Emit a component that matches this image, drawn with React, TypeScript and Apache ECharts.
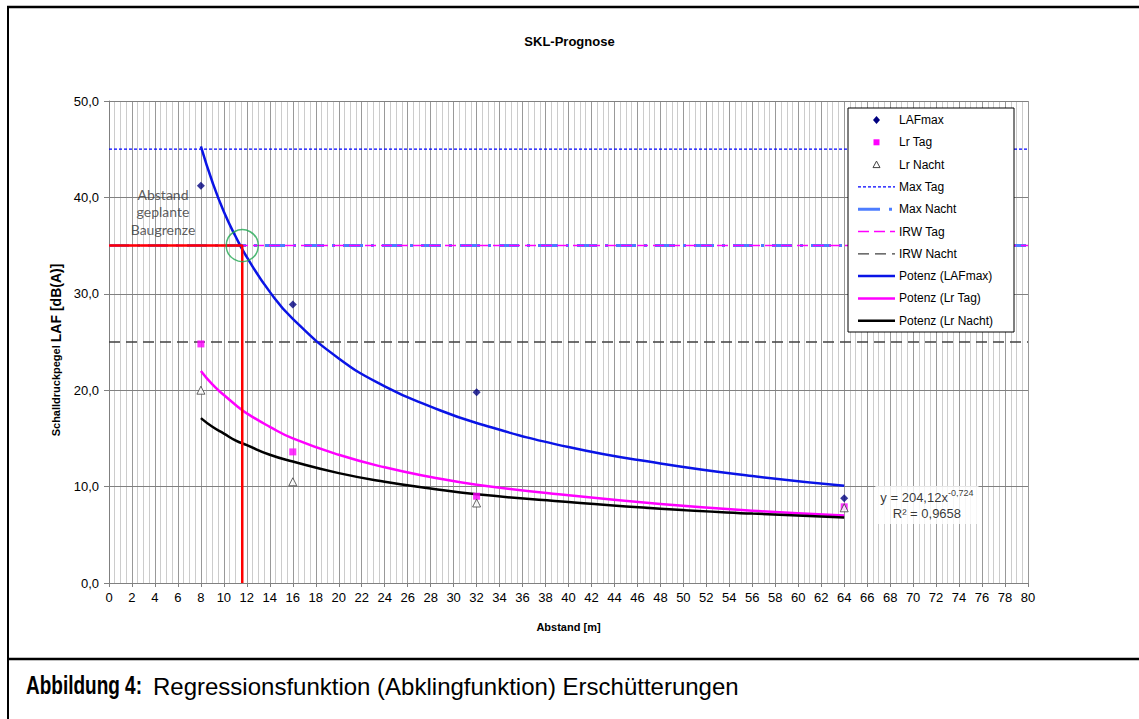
import React, { useEffect, useRef } from "react";
import * as echarts from "echarts";

// measured points
const distances = [8, 16, 32, 64];
const lafMax = [41.2, 28.9, 19.8, 8.8];
const lrTag = [24.8, 13.6, 9.0, 7.9];
const lrNacht = [20.0, 10.5, 8.3, 7.8];

// regression curves
const fitX = [8, 9, 10, 11, 12, 14, 16, 20, 24, 28, 32, 40, 48, 56, 64];
const fitLafMax = [45.3, 41.6, 38.5, 36.0, 33.8, 30.2, 27.4, 23.3, 20.4, 18.3, 16.6, 14.1, 12.4, 11.1, 10.1];
const fitLrTag = [22.0, 20.6, 19.5, 18.5, 17.6, 16.2, 15.0, 13.3, 12.0, 11.0, 10.2, 9.1, 8.2, 7.5, 7.0];
const fitLrNacht = [17.1, 16.2, 15.5, 14.8, 14.3, 13.3, 12.6, 11.4, 10.5, 9.8, 9.2, 8.4, 7.7, 7.2, 6.8];

// limit lines
const limitX = [0, 80];
const maxTag = 45;
const maxNacht = 35;
const irwTag = 35;
const irwNacht = 25;

// Baugrenze marker
const baugrenzeX = 11.6;
const baugrenzeY = 35;
const annotationPos = [4.7, 38.5];
const equationPos = [71.2, 8.1];

const legendNames = [
  "LAFmax",
  "Lr Tag",
  "Lr Nacht",
  "Max Tag",
  "Max Nacht",
  "IRW Tag",
  "IRW Nacht",
  "Potenz (LAFmax)",
  "Potenz (Lr Tag)",
  "Potenz (Lr Nacht)",
];

const FONT = "'Liberation Sans', Arial, sans-serif";

const C_LAF = "#000080";
const C_TAG = "#ff00ff";
const C_NACHT = "#404040";
const C_MAXTAG = "#0000ff";
const C_MAXNACHT = "#4d7dff";
const C_FIT_LAF = "#0a14e6";

const DASH_MAXTAG = [3, 2];
const DASH_MAXNACHT = [20, 8, 3, 8];
const DASH_IRWTAG = [11, 5];
const DASH_IRWNACHT = [11, 6];

const pairs = (xs: number[], ys: number[]) => xs.map((x, i) => [x, ys[i]]);
const hLine = (y: number) => limitX.map((x) => [x, y]);

function legendGraphic() {
  const left = 858;
  const iconW = 37;
  const top = 120;
  const step = 22.3;
  const cx = left + iconW / 2;
  const Z = 30;
  const els: any[] = [
    {
      type: "rect",
      z: Z,
      shape: { x: 848, y: 108, width: 166, height: 224 },
      style: { fill: "#fff", stroke: "#000", lineWidth: 1 },
    },
  ];
  const lineStyles: Record<string, any> = {
    "Max Tag": { stroke: C_MAXTAG, lineWidth: 1.3, lineDash: DASH_MAXTAG },
    "Max Nacht": { stroke: C_MAXNACHT, lineWidth: 3, lineDash: [22, 9, 3, 9] },
    "IRW Tag": { stroke: C_TAG, lineWidth: 1.5, lineDash: DASH_IRWTAG },
    "IRW Nacht": { stroke: C_NACHT, lineWidth: 1.3, lineDash: DASH_IRWNACHT },
    "Potenz (LAFmax)": { stroke: C_FIT_LAF, lineWidth: 2.5 },
    "Potenz (Lr Tag)": { stroke: C_TAG, lineWidth: 2.5 },
    "Potenz (Lr Nacht)": { stroke: "#000", lineWidth: 2.5 },
  };
  legendNames.forEach((name, i) => {
    const y = top + i * step;
    if (name === "LAFmax") {
      els.push({
        type: "polygon",
        z: Z + 1,
        shape: { points: [[cx, y - 4], [cx + 3.5, y], [cx, y + 4], [cx - 3.5, y]] },
        style: { fill: C_LAF },
      });
    } else if (name === "Lr Tag") {
      els.push({
        type: "rect",
        z: Z + 1,
        shape: { x: cx - 3, y: y - 3, width: 6, height: 6 },
        style: { fill: C_TAG },
      });
    } else if (name === "Lr Nacht") {
      els.push({
        type: "polygon",
        z: Z + 1,
        shape: { points: [[cx, y - 3.5], [cx + 3.5, y + 3], [cx - 3.5, y + 3]] },
        style: { fill: "#fff", stroke: C_NACHT, lineWidth: 1 },
      });
    } else {
      els.push({
        type: "line",
        z: Z + 1,
        shape: { x1: left, y1: y, x2: left + iconW, y2: y },
        style: lineStyles[name],
      });
    }
    els.push({
      type: "text",
      z: Z + 1,
      x: 899,
      y,
      style: { text: name, fontFamily: FONT, fontSize: 12, fill: "#000", verticalAlign: "middle" },
    });
  });
  return els;
}

export default function App() {
  const ref = useRef<HTMLDivElement>(null);
  useEffect(() => {
    if (!ref.current) return;
    const chart = echarts.init(ref.current, null, { renderer: "svg" });
    const fmt = (v: number) => v.toFixed(1).replace(".", ",");
    chart.setOption({
      animation: false,
      backgroundColor: "#ffffff",
      title: [
        {
          text: "SKL-Prognose",
          left: "center",
          top: 30,
          textStyle: { fontFamily: FONT, fontSize: 13, fontWeight: "bold", color: "#000" },
        },
      ],
      grid: { left: 109, right: 111, top: 101, bottom: 136, containLabel: false },
      xAxis: {
        type: "value",
        min: 0,
        max: 80,
        interval: 2,
        z: 0,
        name: "Abstand [m]",
        nameLocation: "middle",
        nameGap: 38,
        nameTextStyle: { fontFamily: FONT, fontSize: 11, fontWeight: "bold", color: "#000" },
        axisLine: { show: true, onZero: false, lineStyle: { color: "#808080", width: 1 } },
        axisTick: { show: true, length: 4, lineStyle: { color: "#808080" } },
        axisLabel: { fontFamily: FONT, fontSize: 13, color: "#000", margin: 8 },
        splitLine: { show: true, lineStyle: { color: "#999999", width: 1 } },
        minorTick: { show: true, splitNumber: 4, length: 0 },
        minorSplitLine: { show: true, lineStyle: { color: "#cccccc", width: 1 } },
      },
      yAxis: {
        type: "value",
        min: 0,
        max: 50,
        interval: 10,
        z: 1,
        name: "{a|Schalldruckpegel }{b|LAF [dB(A)]}",
        nameLocation: "middle",
        nameGap: 46,
        nameTextStyle: {
          fontFamily: FONT,
          fontWeight: "bold",
          color: "#000",
          padding: [0, 16, 0, 0],
          rich: {
            a: { fontFamily: FONT, fontSize: 11, fontWeight: "bold", color: "#000" },
            b: { fontFamily: FONT, fontSize: 14, fontWeight: "bold", color: "#000" },
          },
        },
        axisLine: { show: true, lineStyle: { color: "#808080", width: 1 } },
        axisTick: { show: true, length: 5, lineStyle: { color: "#808080" } },
        axisLabel: { fontFamily: FONT, fontSize: 13, color: "#000", margin: 10, formatter: fmt },
        splitLine: { show: true, lineStyle: { color: "#808080", width: 1 } },
      },
      graphic: [
        ...legendGraphic(),
        { type: "line", z: 40, shape: { x1: 7, y1: 7, x2: 1139, y2: 7 }, style: { stroke: "#000", lineWidth: 2.5 } },
        { type: "line", z: 40, shape: { x1: 8, y1: 6, x2: 8, y2: 719 }, style: { stroke: "#000", lineWidth: 2 } },
        { type: "line", z: 40, shape: { x1: 8, y1: 659, x2: 1139, y2: 659 }, style: { stroke: "#000", lineWidth: 2.5 } },
        {
          type: "text",
          z: 40,
          x: 26,
          y: 686,
          scaleX: 0.76,
          style: {
            text: "Abbildung 4:",
            fontFamily: FONT,
            fontSize: 25,
            fontWeight: "bold",
            fill: "#000",
            verticalAlign: "middle",
          },
        },
        {
          type: "text",
          z: 40,
          x: 153,
          y: 686,
          style: {
            text: "Regressionsfunktion (Abklingfunktion) Erschütterungen",
            fontFamily: FONT,
            fontSize: 24,
            fill: "#000",
            verticalAlign: "middle",
          },
        },
      ],
      series: [
        {
          name: "Max Tag",
          type: "line",
          data: hLine(maxTag),
          symbol: "none",
          lineStyle: { color: C_MAXTAG, width: 1.3, type: DASH_MAXTAG },
          z: 2,
        },
        {
          name: "Max Nacht",
          type: "line",
          data: hLine(maxNacht),
          symbol: "none",
          lineStyle: { color: C_MAXNACHT, width: 3, type: DASH_MAXNACHT },
          z: 2,
        },
        {
          name: "IRW Tag",
          type: "line",
          data: hLine(irwTag),
          symbol: "none",
          lineStyle: { color: C_TAG, width: 1.5, type: DASH_IRWTAG },
          z: 2,
        },
        {
          name: "IRW Nacht",
          type: "line",
          data: hLine(irwNacht),
          symbol: "none",
          lineStyle: { color: C_NACHT, width: 1.3, type: DASH_IRWNACHT },
          z: 2,
        },
        {
          name: "Potenz (LAFmax)",
          type: "line",
          smooth: true,
          data: pairs(fitX, fitLafMax),
          symbol: "none",
          lineStyle: { color: C_FIT_LAF, width: 2.5 },
          z: 3,
        },
        {
          name: "Potenz (Lr Tag)",
          type: "line",
          smooth: true,
          data: pairs(fitX, fitLrTag),
          symbol: "none",
          lineStyle: { color: C_TAG, width: 2.5 },
          z: 3,
        },
        {
          name: "Potenz (Lr Nacht)",
          type: "line",
          smooth: true,
          data: pairs(fitX, fitLrNacht),
          symbol: "none",
          lineStyle: { color: "#000000", width: 2.5 },
          z: 3,
        },
        {
          name: "LAFmax",
          type: "scatter",
          data: pairs(distances, lafMax),
          symbol: "diamond",
          symbolSize: 8,
          itemStyle: { color: C_LAF },
          z: 4,
        },
        {
          name: "Lr Tag",
          type: "scatter",
          data: pairs(distances, lrTag),
          symbol: "rect",
          symbolSize: 7,
          itemStyle: { color: C_TAG },
          z: 4,
        },
        {
          name: "Lr Nacht",
          type: "scatter",
          data: pairs(distances, lrNacht),
          symbol: "triangle",
          symbolSize: 8,
          itemStyle: { color: "#ffffff", borderColor: C_NACHT, borderWidth: 1 },
          z: 4,
        },
        {
          name: "Baugrenze",
          type: "line",
          data: [
            [0, baugrenzeY],
            [baugrenzeX, baugrenzeY],
            [baugrenzeX, 0],
          ],
          symbol: "none",
          lineStyle: { color: "#ff0000", width: 2.5 },
          z: 6,
        },
        {
          name: "Schnittpunkt",
          type: "scatter",
          data: [[baugrenzeX, baugrenzeY]],
          symbol: "circle",
          symbolSize: 32,
          itemStyle: { color: "rgba(0,0,0,0)", borderColor: "#22a852", borderWidth: 1.5 },
          z: 7,
        },
        {
          name: "Hinweis",
          type: "scatter",
          data: [annotationPos],
          symbolSize: 1,
          itemStyle: { color: "rgba(0,0,0,0)" },
          label: {
            show: true,
            position: "inside",
            formatter: "Abstand\ngeplante\nBaugrenze",
            fontFamily: "Lato, 'Open Sans', sans-serif",
            fontSize: 14,
            lineHeight: 17.5,
            color: "#333333",
            align: "center",
          },
          z: 7,
        },
        {
          name: "Gleichung",
          type: "scatter",
          data: [equationPos],
          symbolSize: 1,
          itemStyle: { color: "rgba(0,0,0,0)" },
          label: {
            show: true,
            position: "inside",
            formatter: "{a|y = 204,12x}{s|-0,724}\n{a|R² = 0,9658}",
            backgroundColor: "#ffffff",
            padding: [3, 5],
            align: "center",
            rich: {
              a: { fontFamily: FONT, fontSize: 13, color: "#000", lineHeight: 15 },
              s: { fontFamily: FONT, fontSize: 9, color: "#000", padding: [0, 0, 8, 0] },
            },
          },
          z: 7,
        },
      ],
    });
    return () => chart.dispose();
  }, []);
  return (
    <div
      ref={ref}
      style={{ position: "fixed", left: 0, top: 0, width: 1139, height: 719, background: "#fff" }}
    />
  );
}
